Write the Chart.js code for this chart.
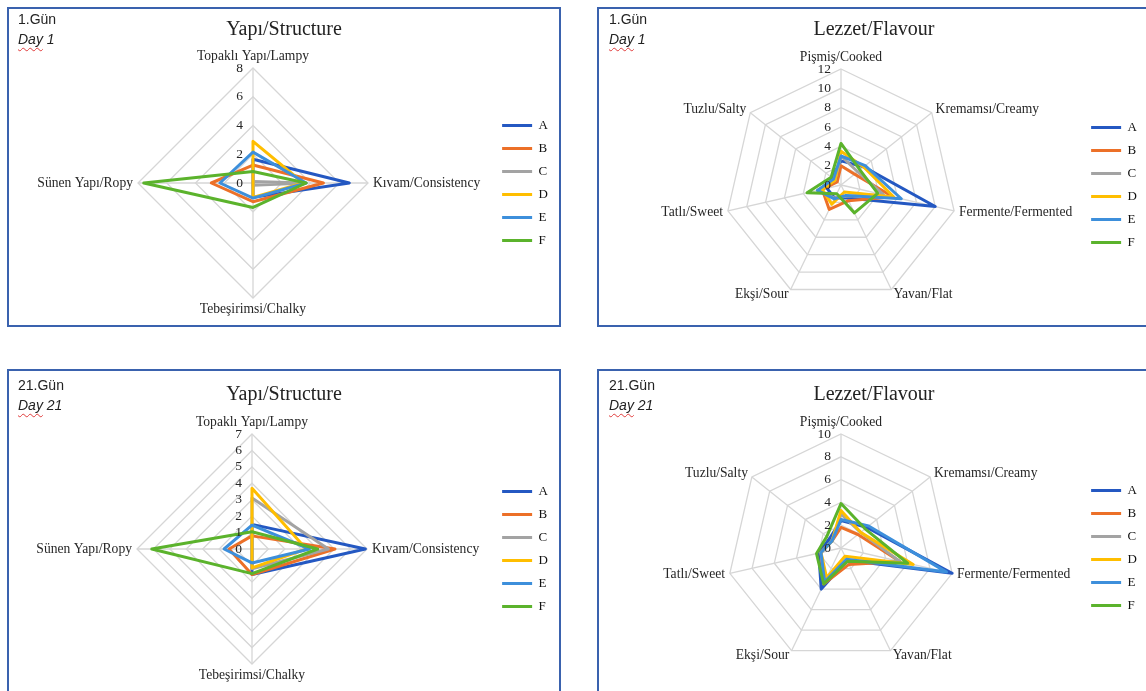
<!DOCTYPE html>
<html>
<head>
<meta charset="utf-8">
<script src="https://cdn.jsdelivr.net/npm/chart.js@4/dist/chart.umd.min.js"></script>
<style>
  html, body { margin: 0; padding: 0; background: #fff; }
  body { width: 1146px; height: 691px; overflow: hidden; position: relative; }
  .panel { position: absolute; border: 2px solid #3A62AE; box-sizing: border-box; background: #fff; }
  canvas { position: absolute; }
  .day { position: absolute; font-family: 'Liberation Sans', Arial, sans-serif; font-size: 14px; color: #222; line-height: 20px; }
  .day .sp { text-decoration: underline wavy #E03C3C; text-decoration-thickness: 1px; text-underline-offset: 3px; }
  .title { position: absolute; width: 552px; text-align: center; font-family: 'Liberation Serif', 'Times New Roman', serif; font-size: 20px; color: #222; line-height: 22px; }
</style>
</head>
<body>
  <div class="panel" style="left:7px;top:7px;width:554px;height:320px;"></div>
  <div class="panel" style="left:597px;top:7px;width:554px;height:320px;"></div>
  <div class="panel" style="left:7px;top:369px;width:554px;height:330px;"></div>
  <div class="panel" style="left:597px;top:369px;width:554px;height:330px;"></div>

  <canvas id="c1" width="552" height="318" style="left:8px;top:8px;"></canvas>
  <canvas id="c2" width="552" height="318" style="left:598px;top:8px;"></canvas>
  <canvas id="c3" width="552" height="321" style="left:8px;top:370px;"></canvas>
  <canvas id="c4" width="552" height="321" style="left:598px;top:370px;"></canvas>

  <div class="day" style="left:18px;top:9px;">1.Gün<br><i><span class="sp">Day</span> 1</i></div>
  <div class="day" style="left:609px;top:9px;">1.Gün<br><i><span class="sp">Day</span> 1</i></div>
  <div class="day" style="left:18px;top:375px;">21.Gün<br><i><span class="sp">Day</span> 21</i></div>
  <div class="day" style="left:609px;top:375px;">21.Gün<br><i><span class="sp">Day</span> 21</i></div>

  <div class="title" style="left:8px;top:17px;">Yapı/Structure</div>
  <div class="title" style="left:598px;top:17px;">Lezzet/Flavour</div>
  <div class="title" style="left:8px;top:382px;">Yapı/Structure</div>
  <div class="title" style="left:598px;top:382px;">Lezzet/Flavour</div>

<script>
// Sensory attributes (clockwise from the top axis)
const structureAxes = ['Topaklı Yapı/Lampy', 'Kıvam/Consistency', 'Tebeşirimsi/Chalky', 'Sünen Yapı/Ropy'];
const flavourAxes = ['Pişmiş/Cooked', 'Kremamsı/Creamy', 'Fermente/Fermented', 'Yavan/Flat', 'Ekşi/Sour', 'Tatlı/Sweet', 'Tuzlu/Salty'];

// Samples and their line colours
const samples = ['A', 'B', 'C', 'D', 'E', 'F'];
const sampleColors = ['#2458C2', '#EC7028', '#A3A3A3', '#FFBE00', '#3D8FDB', '#5BB32C'];

// Scale ticks
const structureDay1Ticks = [0, 2, 4, 6, 8];
const structureDay21Ticks = [0, 1, 2, 3, 4, 5, 6, 7];
const flavourDay1Ticks = [0, 2, 4, 6, 8, 10, 12];
const flavourDay21Ticks = [0, 2, 4, 6, 8, 10];

// Structure, day 1 (rows: samples A-F, columns: structureAxes)
const structureDay1 = [
  [1.65, 6.7, 1.0, 0],
  [1.25, 4.9, 1.3, 2.9],
  [0.1, 3.6, 0.15, 0],
  [2.9, 3.5, 1.0, 0],
  [2.15, 3.7, 1.05, 2.3],
  [0.8, 3.7, 1.7, 7.6]
];

// Structure, day 21
const structureDay21 = [
  [1.5, 6.9, 1.55, 0],
  [0.8, 5.05, 1.55, 1.4],
  [3.1, 4.65, 1.2, 0],
  [3.7, 3.3, 1.15, 0],
  [1.45, 3.5, 0.85, 1.7],
  [1.05, 4.0, 1.5, 6.1]
];

// Flavour, day 1 (columns: flavourAxes)
const flavourDay1 = [
  [2.5, 3.0, 10.0, 1.5, 1.5, 1.5, 1.2],
  [2.0, 1.8, 5.5, 1.8, 2.8, 2.0, 0.5],
  [3.0, 2.2, 4.5, 1.3, 1.5, 2.5, 0.8],
  [3.5, 3.0, 5.6, 0.8, 2.2, 2.0, 0.8],
  [3.0, 3.2, 6.4, 1.2, 1.6, 2.5, 1.0],
  [4.3, 2.5, 3.9, 3.2, 1.0, 3.6, 1.3]
];

// Flavour, day 21
const flavourDay21 = [
  [2.4, 2.9, 10.0, 1.2, 4.0, 2.0, 1.3],
  [1.8, 1.9, 5.3, 1.6, 3.5, 1.8, 1.0],
  [3.0, 2.2, 5.3, 1.3, 3.2, 1.8, 1.0],
  [3.3, 2.2, 6.5, 0.8, 2.9, 1.8, 1.0],
  [2.5, 3.1, 9.5, 1.1, 3.3, 1.8, 1.0],
  [3.9, 2.7, 6.0, 1.3, 3.5, 2.2, 1.6]
];

const serif = '"Liberation Serif", "Times New Roman", serif';

// Draws the axis names around the web and the value labels beside the vertical axis
const radarText = {
  id: 'radarText',
  afterDatasetsDraw(chart, args, opts) {
    const s = chart.scales.r;
    const ctx = chart.ctx;
    ctx.save();
    ctx.fillStyle = '#262626';
    ctx.font = '13.5px ' + serif;
    ctx.textAlign = 'right';
    ctx.textBaseline = 'middle';
    opts.ticks.forEach(v => {
      ctx.fillText(String(v), s.xCenter - 10, s.yCenter - s.getDistanceFromCenterForValue(v));
    });
    ctx.font = '13.6px ' + serif;
    chart.data.labels.forEach((lab, i) => {
      const p = s.getPointPosition(i, s.drawingArea + 5);
      const dx = p.x - s.xCenter;
      const dy = p.y - s.yCenter;
      if (Math.abs(dx) < 1) {
        ctx.textAlign = 'center';
        ctx.textBaseline = dy < 0 ? 'bottom' : 'top';
      } else {
        ctx.textAlign = dx > 0 ? 'left' : 'right';
        ctx.textBaseline = 'middle';
      }
      ctx.fillText(lab, p.x, p.y);
    });
    ctx.restore();
  }
};

function makeRadar(id, axes, rows, ticks, pad) {
  const datasets = rows.map((vals, i) => ({
    label: samples[i],
    data: vals,
    borderColor: sampleColors[i],
    backgroundColor: sampleColors[i],
    borderWidth: 3,
    borderJoinStyle: 'round',
    fill: false,
    pointRadius: 0,
    pointHoverRadius: 0,
    order: rows.length - 1 - i
  }));
  return new Chart(document.getElementById(id), {
    type: 'radar',
    data: { labels: axes, datasets },
    options: {
      responsive: false,
      animation: false,
      layout: { padding: pad },
      elements: { line: { tension: 0 } },
      scales: {
        r: {
          min: ticks[0],
          max: ticks[ticks.length - 1],
          ticks: { display: false, stepSize: ticks[1] - ticks[0] },
          grid: { color: '#D6D6D6', lineWidth: 1.3 },
          angleLines: { color: '#D6D6D6', lineWidth: 1.3 },
          pointLabels: { display: false }
        }
      },
      plugins: {
        legend: {
          position: 'right',
          align: 'center',
          labels: {
            usePointStyle: true,
            pointStyle: 'line',
            pointStyleWidth: 30,
            padding: 10,
            color: '#111',
            font: { family: serif, size: 13 },
            sort: (a, b) => a.datasetIndex - b.datasetIndex
          }
        },
        tooltip: { enabled: false },
        radarText: { ticks }
      }
    },
    plugins: [radarText]
  });
}

makeRadar('c1', structureAxes, structureDay1, structureDay1Ticks, { left: 7, right: 2, top: 60, bottom: 28 });
makeRadar('c2', flavourAxes, flavourDay1, flavourDay1Ticks, { left: 4, right: 3, top: 61, bottom: 25 });
makeRadar('c3', structureAxes, structureDay21, structureDay21Ticks, { left: 4, right: 2, top: 64, bottom: 27 });
makeRadar('c4', flavourAxes, flavourDay21, flavourDay21Ticks, { left: 4, right: 3, top: 64, bottom: 29 });
</script>
</body>
</html>
